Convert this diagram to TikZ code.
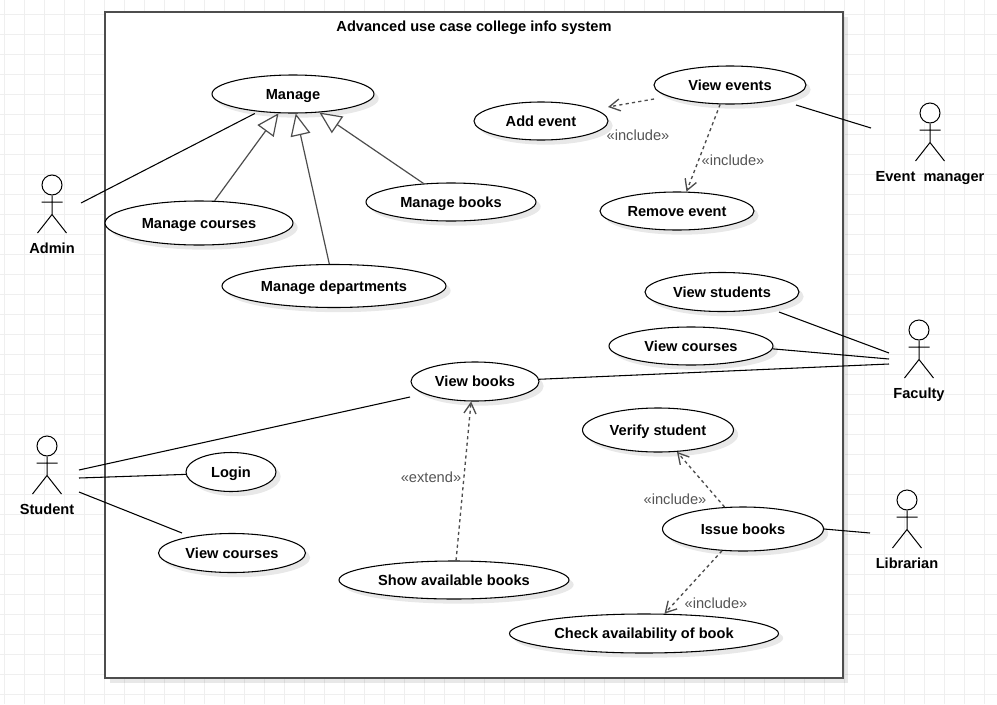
\documentclass[tikz,border=0pt]{standalone}
\usepackage{fontspec}
\setmainfont{Liberation Sans}
\usetikzlibrary{shapes.geometric,shadows,arrows.meta}
\definecolor{gridcol}{HTML}{EFEFEF}
\definecolor{edgecol}{HTML}{4D4D4D}
\definecolor{stereocol}{HTML}{555555}
\newcommand{\actorfig}[4]{
  \node[actorhead] (#1) at (#2,#3) {};
  \draw[actorline] (#1.south) -- ++(0,19) coordinate (#1hip)
    (#2-10.5,#3+17) -- (#2+10.5,#3+17)
    (#2-14.5,#3+48) -- (#1hip) -- (#2+14.5,#3+48);
  \node[actorlabel] (#1label) at (#2,#3+63) {#4};
}
\begin{document}
\begin{tikzpicture}[x=0.75pt, y=-0.75pt,
    softshadow/.style={drop shadow={shadow xshift=3.5pt, shadow yshift=-3.5pt, fill=black, opacity=0.09}},
    usecase/.style 2 args={ellipse, draw=black, line width=0.8pt, fill=white, inner sep=0pt,
      text height=7.9pt, text depth=0pt,
      minimum width=#1*0.75pt, minimum height=#2*0.75pt, softshadow, font=\bfseries\fontsize{10.95}{12}\selectfont},
    actorhead/.style={circle, draw=black, line width=0.75pt, fill=white, inner sep=0pt, minimum size=15pt},
    actorline/.style={draw=black, line width=0.75pt},
    actorlabel/.style={inner sep=0pt, text height=7.9pt, text depth=0pt, font=\bfseries\fontsize{10.95}{12}\selectfont},
    assoc/.style={draw=black, line width=0.8pt},
    general/.style={draw=edgecol, line width=0.9pt, -{Triangle[open, fill=white, length=16.5pt, width=15pt]}},
    depend/.style={draw=edgecol, line width=1pt, dash pattern=on 2.4pt off 2.4pt,
      -{Straight Barb[length=8pt, width=9pt]}},
    stereo/.style={inner sep=0pt, text=stereocol, font=\fontsize{11}{12}\selectfont}]
  \useasboundingbox (0,0) rectangle (997,704);

  % page grid
  \foreach \gx in {4,24,...,984} \draw[gridcol, line width=0.5pt] (\gx,0) -- (\gx,704);
  \foreach \gy in {14,34,...,694} \draw[gridcol, line width=0.5pt] (0,\gy) -- (997,\gy);

  % system boundary
  \node[rectangle, draw=edgecol, line width=1pt, fill=white, inner sep=0pt, softshadow,
    minimum width=553.5pt, minimum height=499.5pt] (system) at (474,345) {};
  \node[actorlabel] (title) at (474,26) {Advanced use case college info system};

  % manage group
  \node[usecase={162}{38}] (manage) at (293,94) {Manage};
  \node[usecase={188}{44}] (mancourses) at (199,223) {Manage courses};
  \node[usecase={170}{38}] (manbooks) at (451,202) {Manage books};
  \node[usecase={224}{43}] (mandepts) at (334,286) {Manage departments};

  % events group
  \node[usecase={134}{38}] (addevent) at (541,121) {Add event};
  \node[usecase={152}{38}] (viewevents) at (730,85) {View events};
  \node[usecase={154}{38}] (removeevent) at (677,211) {Remove event};

  % faculty group
  \node[usecase={154}{39}] (viewstudents) at (722,292) {View students};
  \node[usecase={164}{38}] (viewcourses) at (691,346) {View courses};
  \node[usecase={128}{39}] (viewbooks) at (475,381.5) {View books};

  % student group
  \node[usecase={90}{39}] (login) at (231,472) {Login};
  \node[usecase={147}{39}] (stucourses) at (232,553) {View courses};
  \node[usecase={230}{38}] (showbooks) at (454,580) {Show available books};

  % librarian group
  \node[usecase={151}{44}] (verify) at (658,430) {Verify student};
  \node[usecase={161}{44}] (issue) at (743,529) {Issue books};
  \node[usecase={269}{39}] (checkbook) at (644,633.5) {Check availability of book};

  % actors
  \actorfig{admin}{52}{185}{Admin}
  \actorfig{eventmgr}{930}{113}{Event\ \ manager}
  \actorfig{faculty}{919}{330}{Faculty}
  \actorfig{student}{47}{446}{Student}
  \actorfig{librarian}{907}{500}{Librarian}

  % free ends of the connectors
  \coordinate (adminend) at (81,203);
  \coordinate (eventstart) at (796,105);
  \coordinate (eventend) at (871,128);
  \coordinate (addfrom) at (654,99);
  \coordinate (addtip) at (608,107);
  \coordinate (studfrom) at (779,312);
  \coordinate (facstud) at (889,353);
  \coordinate (faccourse) at (889,359);
  \coordinate (facbooks) at (889,364);
  \coordinate (stubooks) at (79,470);
  \coordinate (booksend) at (410,397);
  \coordinate (stulogin) at (79,478);
  \coordinate (stucourse) at (79,492);
  \coordinate (coursesend) at (182,533);
  \coordinate (libend) at (870,533);

  % associations
  \draw[assoc, shorten >=3pt] (adminend) -- (manage.207);
  \draw[assoc] (eventstart) -- (eventend);
  \draw[assoc] (studfrom) -- (facstud);
  \draw[assoc] (viewcourses.358) -- (faccourse);
  \draw[assoc] (viewbooks.2) -- (facbooks);
  \draw[assoc] (stubooks) -- (booksend);
  \draw[assoc] (stulogin) -- (login.183);
  \draw[assoc] (stucourse) -- (coursesend);
  \draw[assoc] (issue.east) -- (libend);

  % generalisations
  \draw[general] (mancourses.55) -- (manage.233);
  \draw[general] (mandepts.102) -- (manage.278);
  \draw[general] (manbooks.146) -- (manage.325);

  % include and extend
  \draw[depend] (addfrom) -- (addtip);
  \draw[depend] (viewevents.243) -- (removeevent.64);
  \draw[depend] (showbooks.84) -- (viewbooks.259);
  \draw[depend] (issue.130) -- (verify.311);
  \draw[depend] (issue.226) -- (checkbook.44);

  \node[stereo] (inc1) at (638,135) {«include»};
  \node[stereo] (inc2) at (733,160) {«include»};
  \node[stereo] (ext1) at (431,477) {«extend»};
  \node[stereo] (inc3) at (675,499) {«include»};
  \node[stereo] (inc4) at (716,603) {«include»};
\end{tikzpicture}
\end{document}
